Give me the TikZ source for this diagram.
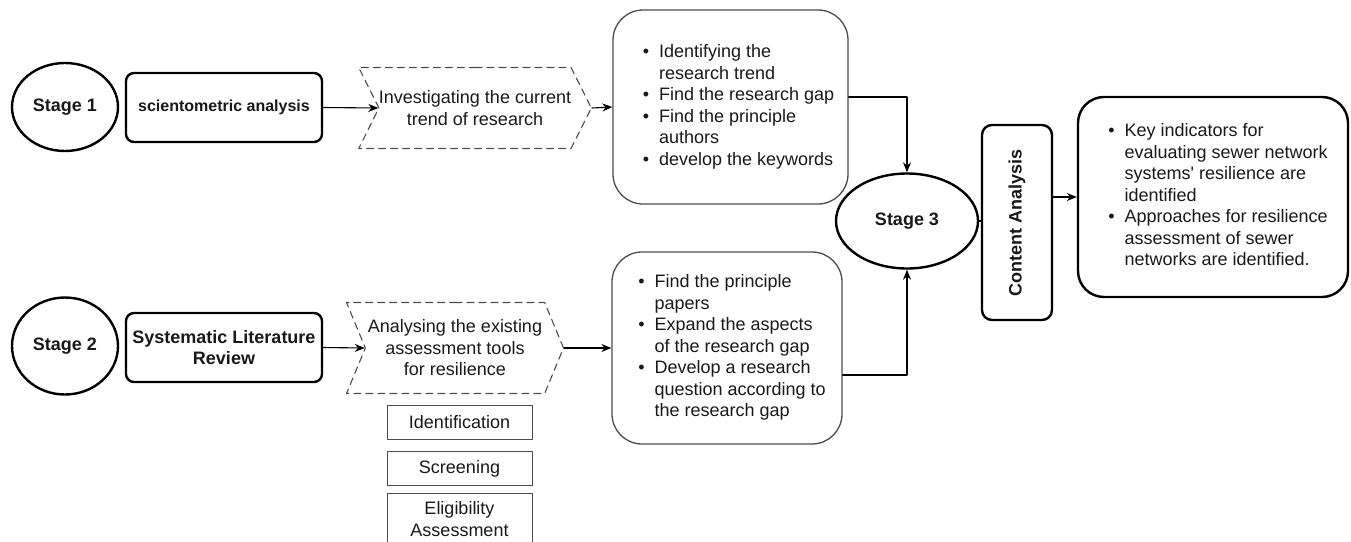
\documentclass[tikz,border=0pt]{standalone}
\usepackage{graphicx}
\usepackage{fontspec}
\setmainfont{Liberation Sans}
\usetikzlibrary{arrows.meta,shapes.geometric,shapes.symbols}
\definecolor{qqqqqq}{rgb}{0.1,0.1,0.1}
\definecolor{zzzzzz}{rgb}{0.3,0.3,0.3}

\begin{document}
\begin{tikzpicture}[x=1pt,y=-1pt,line cap=round,line join=round,
>={Stealth[length=10pt,width=8pt]},
font=\fontsize{18}{21.5}\selectfont,text=qqqqqq,
stage/.style={ellipse,draw=black,line width=2.4pt,inner sep=0pt,minimum width=106pt,minimum height=88pt,font=\fontsize{18}{21.5}\selectfont\bfseries},
phase/.style={rectangle,draw=black,line width=2.4pt,rounded corners=8pt,minimum width=196pt,minimum height=69pt,inner sep=0pt,align=center,font=\fontsize{18}{21.5}\selectfont\bfseries},
task/.style={signal,signal from=west,signal to=east,draw=zzzzzz,line width=1.1pt,dash pattern=on 7pt off 5pt,inner sep=0pt,align=center,minimum width=226pt,minimum height=81pt,signal pointer angle=127},
outcome/.style={rectangle,draw=zzzzzz,line width=1.3pt,rounded corners=30pt,inner sep=0pt,minimum width=235pt,minimum height=194pt},
prisma/.style={rectangle,draw=zzzzzz,line width=1pt,inner sep=0pt,minimum width=145pt,minimum height=34pt,align=center},
link/.style={draw=black,line width=1.1pt}]
\useasboundingbox (0,0) rectangle (1351,541);
\clip (0,0) rectangle (1351,541);
% stages
\node[stage] (st1) at (65,107) {Stage 1};
\node[stage,minimum height=97pt] (st2) at (65,346) {Stage 2};
\node[stage,minimum width=142pt,minimum height=95pt] (st3) at (907,221) {Stage 3};
% methods
\node[phase,font=\fontsize{16}{19}\selectfont\bfseries] (sci) at (224,107.5) {scientometric analysis};
\node[phase] (slr) at (224,347.5) {Systematic Literature\\Review};
\node[phase,minimum width=70pt,minimum height=195pt,rounded corners=10pt] (ca) at (1017,222.5) {\rotatebox{90}{Content Analysis}};
% tasks
\node[task] (inv) at (475,108) {Investigating the current\\trend of research};
\node[task,minimum width=217pt,minimum height=91pt,signal pointer angle=135] (ana) at (455,348) {Analysing the existing\\assessment tools\\for resilience};
\node[prisma] (idf) at (459.5,422) {Identification};
\node[prisma] (scr) at (459.5,468.5) {Screening};
\node[prisma,minimum height=52pt] (elg) at (459.5,519) {Eligibility\\Assessment};
% outcomes
\node[outcome] (out1) at (730.5,107) {\begin{tabular}{@{\hspace{16pt}}l@{\hspace{10pt}}l@{}}
\textbullet & Identifying the\\ & research trend\\
\textbullet & Find the research gap\\
\textbullet & Find the principle\\ & authors\\
\textbullet & develop the keywords\end{tabular}};
\node[outcome,minimum width=230pt,minimum height=192pt] (out2) at (727,348) {\begin{tabular}{@{\hspace{10pt}}l@{\hspace{10pt}}l@{}}
\textbullet & Find the principle\\ & papers\\
\textbullet & Expand the aspects\\ & of the research gap\\
\textbullet & Develop a research\\ & question according to\\ & the research gap\end{tabular}};
\node[outcome,draw=black,line width=2.4pt,minimum width=270pt,minimum height=200pt,rounded corners=26pt] (res) at (1213,197) {\begin{tabular}{@{\hspace{10pt}}l@{\hspace{10pt}}l@{}}
\textbullet & Key indicators for\\ & evaluating sewer network\\ & systems\textquotesingle\ resilience are\\ & identified\\
\textbullet & Approaches for resilience\\ & assessment of sewer\\ & networks are identified.\end{tabular}};
% connectors
\draw[link,->] (sci.east) -- (inv.west);
\draw[link,->] (inv.east) -- (out1.west);
\draw[link,->] ([yshift=10pt]out1.east) -| (st3.north);
\draw[link,->] (slr.east) -- (ana.west);
\draw[link,->] (ana.east) -- (out2.west);
\draw[link,->] ([yshift=-27pt]out2.east) -| (st3.south);
\draw[link] (st3.east) -- (st3.east -| ca.west);
\draw[link,->] (ca.east |- res.west) -- (res.west);
\end{tikzpicture}
\end{document}
